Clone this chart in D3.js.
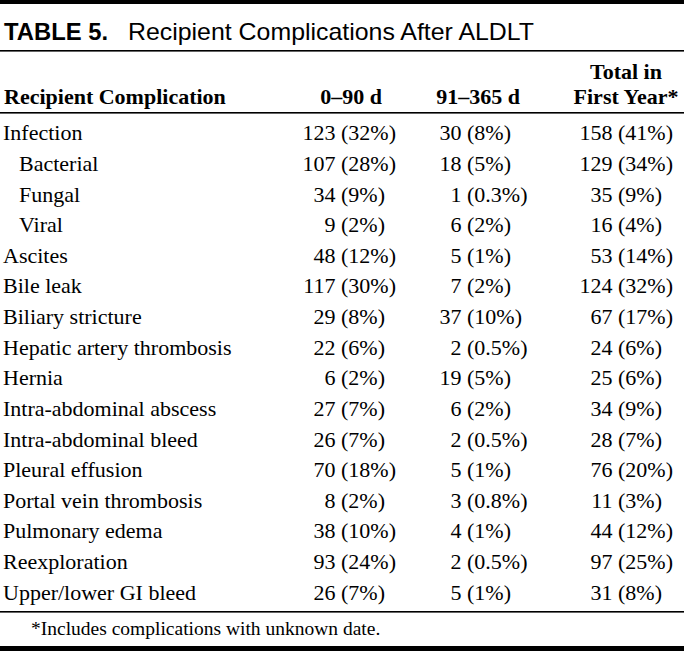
<!DOCTYPE html>
<html>
<head>
<meta charset="utf-8">
<script src="https://cdn.jsdelivr.net/npm/d3@7"></script>
<style>
  html, body { margin: 0; padding: 0; background: #fff; }
  svg { display: block; }
</style>
</head>
<body>
<div id="chart"></div>
<script>
// ---------------- DATA ----------------
const titleLabel = "TABLE 5.";
const titleText = "Recipient Complications After ALDLT";
const columnHeaders = ["Recipient Complication", "0–90 d", "91–365 d", "Total in|First Year*"];
const categories = [
  "Infection", "Bacterial", "Fungal", "Viral", "Ascites", "Bile leak",
  "Biliary stricture", "Hepatic artery thrombosis", "Hernia",
  "Intra-abdominal abscess", "Intra-abdominal bleed", "Pleural effusion",
  "Portal vein thrombosis", "Pulmonary edema", "Reexploration", "Upper/lower GI bleed"
];
const subLevel = [0, 1, 1, 1, 0, 0, 0, 0, 0, 0, 0, 0, 0, 0, 0, 0];
const count0to90 = [123, 107, 34, 9, 48, 117, 29, 22, 6, 27, 26, 70, 8, 38, 93, 26];
const pct0to90 = ["32%", "28%", "9%", "2%", "12%", "30%", "8%", "6%", "2%", "7%", "7%", "18%", "2%", "10%", "24%", "7%"];
const count91to365 = [30, 18, 1, 6, 5, 7, 37, 2, 19, 6, 2, 5, 3, 4, 2, 5];
const pct91to365 = ["8%", "5%", "0.3%", "2%", "1%", "2%", "10%", "0.5%", "5%", "2%", "0.5%", "1%", "0.8%", "1%", "0.5%", "1%"];
const countTotal = [158, 129, 35, 16, 53, 124, 67, 24, 25, 34, 28, 76, 11, 44, 97, 31];
const pctTotal = ["41%", "34%", "9%", "4%", "14%", "32%", "17%", "6%", "6%", "9%", "7%", "20%", "3%", "12%", "25%", "8%"];
const footnote = "*Includes complications with unknown date.";

// ---------------- LAYOUT ----------------
const W = 684, H = 651;
const serif = "'Liberation Serif', 'Times New Roman', serif";
const sans = "'Liberation Sans', Arial, sans-serif";

const svg = d3.select("#chart").append("svg")
  .attr("width", W).attr("height", H)
  .style("background", "#fff");

function rule(y, h) {
  svg.append("rect").attr("x", 0).attr("y", y).attr("width", W).attr("height", h).attr("fill", "#000");
}
rule(0, 4);
rule(50, 1.6);
rule(112, 1.6);
rule(611, 1.6);
rule(646, 5);

// title
svg.append("text")
  .attr("x", 4).attr("y", 40)
  .attr("font-family", sans).attr("font-weight", "bold").attr("font-size", 24)
  .attr("textLength", 104).attr("lengthAdjust", "spacingAndGlyphs")
  .text(titleLabel);
svg.append("text")
  .attr("x", 128).attr("y", 40)
  .attr("font-family", sans).attr("font-size", 24)
  .attr("textLength", 406).attr("lengthAdjust", "spacingAndGlyphs")
  .text(titleText);

// row scale
const y = d3.scaleBand()
  .domain(d3.range(categories.length))
  .range([118, 608]);

// column anchors
const colKeys = ["c1", "c2", "c3"];
const parenX = d3.scaleOrdinal().domain(colKeys).range([341, 467, 618]);
const headX = d3.scaleOrdinal().domain(colKeys).range([351, 478, 626]);

const fs = 22;
const spaceW = fs * 0.25;

// header
const hdr = svg.append("g")
  .attr("font-family", serif).attr("font-weight", "bold").attr("font-size", fs);
hdr.append("text").attr("x", 4).attr("y", 104).text(columnHeaders[0]);
colKeys.forEach((k, i) => {
  const lines = columnHeaders[i + 1].split("|");
  lines.forEach((ln, j) => {
    hdr.append("text")
      .attr("x", headX(k)).attr("y", 104 - (lines.length - 1 - j) * 25)
      .attr("text-anchor", "middle")
      .text(ln);
  });
});

// body
const body = svg.append("g").attr("font-family", serif).attr("font-size", fs).attr("fill", "#000");
const baseline = i => y(i) + y.bandwidth() / 2 + 7;

body.selectAll("text.cat").data(categories).join("text")
  .attr("class", "cat")
  .attr("x", (d, i) => 3 + subLevel[i] * 16)
  .attr("y", (d, i) => baseline(i))
  .text(d => d);

const cols = [
  { key: "c1", n: count0to90, p: pct0to90 },
  { key: "c2", n: count91to365, p: pct91to365 },
  { key: "c3", n: countTotal, p: pctTotal }
];
cols.forEach(c => {
  body.selectAll("text.n" + c.key).data(c.n).join("text")
    .attr("class", "n" + c.key)
    .attr("x", parenX(c.key) - spaceW)
    .attr("y", (d, i) => baseline(i))
    .attr("text-anchor", "end")
    .text(d => d);
  body.selectAll("text.p" + c.key).data(c.p).join("text")
    .attr("class", "p" + c.key)
    .attr("x", parenX(c.key))
    .attr("y", (d, i) => baseline(i))
    .attr("text-anchor", "start")
    .text(d => "(" + d + ")");
});

// footnote
svg.append("text")
  .attr("x", 31).attr("y", 635)
  .attr("font-family", serif).attr("font-size", 19.5)
  .text(footnote);
</script>
</body>
</html>
